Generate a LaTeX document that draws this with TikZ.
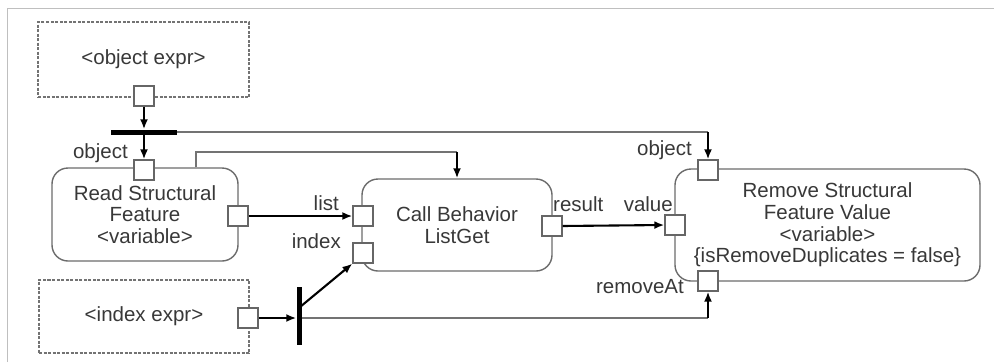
\documentclass[tikz,border=0pt]{standalone}
\usepackage{fontspec}
\setmainfont{Liberation Sans}
\usetikzlibrary{arrows.meta}
\begin{document}
\begin{tikzpicture}[x=1pt,y=-1pt,
  every node/.style={font=\fontsize{20.5}{21.7}\selectfont, text=black!78},
  exprbox/.style={draw=black!55, dashed, dash pattern=on 3pt off 1.5pt, line width=1.4pt, minimum width=#1, minimum height=74, inner sep=0},
  actbox/.style={draw=black!58, line width=1.4pt, rounded corners=16pt, inner sep=0, align=center},
  pin/.style={draw=black!60, fill=white, line width=1.3pt, minimum size=20, inner sep=0},
  bar/.style={fill=black, inner sep=0},
  flow/.style={draw=black, line width=2.1pt, -{Latex[length=10pt,width=8pt]}},
  plain/.style={draw=black!55, line width=1.5pt},
  lbl/.style={inner sep=0}
]
\useasboundingbox (0,0) rectangle (994,362);
\draw[black!25, line width=1pt] (7,362) -- (7,8) -- (994,8);

% boxes
\node[exprbox=211, minimum height=75] (objexpr) at (143.5,59.5) {<object expr>};
\node[exprbox=210, minimum height=73] (ixexpr) at (144,316.5) {<index expr>};
\node[actbox, minimum width=186, minimum height=93] (rsf) at (145,214.5) {Read Structural\\Feature\\<variable>};
\node[actbox, minimum width=190, minimum height=92] (cb) at (457,225) {Call Behavior\\ListGet};
\node[actbox, minimum width=305, minimum height=112] (rem) at (827.5,225) {Remove Structural\\Feature Value\\<variable>\\\{isRemoveDuplicates = false\}};

% pins
\node[pin] (pinOE) at (144,96) {};
\node[pin] (pinRobj) at (144,170) {};
\node[pin] (pinRout) at (238,216) {};
\node[pin] (pinList) at (363,216) {};
\node[pin] (pinIndex) at (363,253) {};
\node[pin] (pinResult) at (552,226) {};
\node[pin] (pinObj2) at (708,170) {};
\node[pin] (pinValue) at (675,225) {};
\node[pin] (pinRemAt) at (708,281) {};
\node[pin] (pinIE) at (248,318) {};

% fork bars
\node[bar, minimum width=66, minimum height=5] (forkA) at (144,132) {};
\node[bar, minimum width=5, minimum height=58] (forkB) at (299,316) {};

% labels
\node[lbl, anchor=east] (lobj1) at (128,153) {object};
\node[lbl, anchor=east] (llist) at (339,203) {list};
\node[lbl, anchor=east] (lindex) at (341,241) {index};
\node[lbl, anchor=west] (lres) at (553,204) {result};
\node[lbl, anchor=east] (lobj2) at (692,150) {object};
\node[lbl, anchor=east] (lval) at (673,204) {value};
\node[lbl, anchor=east] (lrem) at (684,287) {removeAt};

% coordinates
\coordinate (t1) at (196,152);
\coordinate (t2) at (457,152);
\coordinate (t3) at (708,132);
\coordinate (t4) at (708,318);
\coordinate (d1) at (300,307);

% connectors
\draw[flow] (pinOE.south) -- (forkA.north);
\draw[flow] (forkA.south) -- (pinRobj.north);
\draw[plain] (forkA.east) -- (t3);
\draw[flow] (t3) -- (pinObj2.north);
\draw[plain] (rsf.north -| t1) -- (t1) -- (t2);
\draw[flow] (t2) -- (cb.north);
\draw[flow] (pinRout.east) -- (pinList.west);
\draw[flow] (pinResult.east) -- (pinValue.west);
\draw[flow] (pinIE.east) -- (forkB.west |- pinIE);
\draw[flow] (d1) -- (pinIndex.south west);
\draw[plain] (forkB.east |- pinIE) -- (t4);
\draw[flow] (t4) -- (pinRemAt.south);
\end{tikzpicture}
\end{document}
